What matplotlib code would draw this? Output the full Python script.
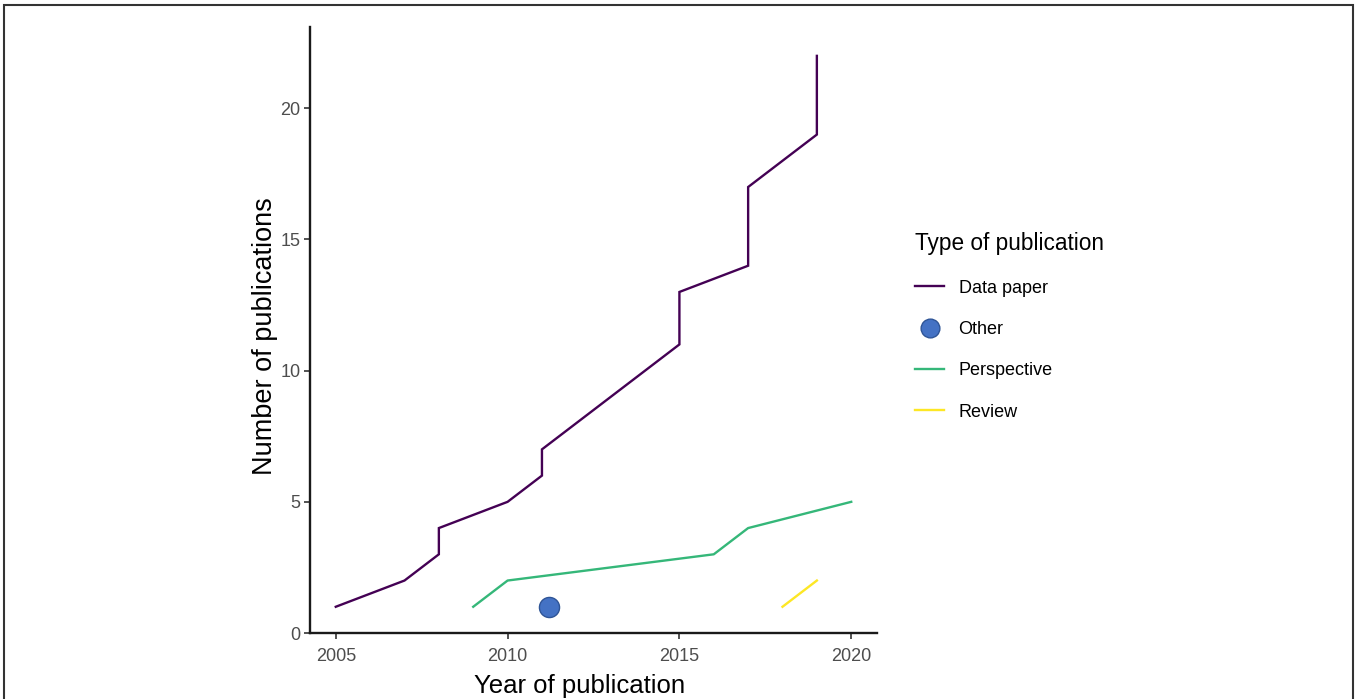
import matplotlib.pyplot as plt
from matplotlib.lines import Line2D
from matplotlib.patches import Rectangle

plt.rcParams["font.family"] = ["Liberation Sans", "DejaVu Sans"]

# cumulative counts per publication type
data_years = [2005, 2007, 2008, 2008, 2010, 2011, 2011, 2015, 2015, 2017, 2017, 2019, 2019]
data_counts = [1, 2, 3, 4, 5, 6, 7, 11, 13, 14, 17, 19, 22]
persp_years = [2009, 2010, 2016, 2017, 2020]
persp_counts = [1, 2, 3, 4, 5]
review_years = [2018, 2019]
review_counts = [1, 2]
other_years = [2011.2]
other_counts = [1]

x_ticks = [2005, 2010, 2015, 2020]
y_ticks = [0, 5, 10, 15, 20]

C_DATA = "#440154"
C_OTHER = "#4472C4"
C_PERSP = "#35B779"
C_REVIEW = "#FDE725"


def main():
    fig = plt.figure(figsize=(13.59, 6.99), dpi=100)
    fig.patch.set_facecolor("white")
    ax = fig.add_axes([310 / 1359, 1 - 633 / 699, (877 - 310) / 1359, (633 - 27) / 699])

    ax.plot(data_years, data_counts, color=C_DATA, lw=1.7, solid_joinstyle="miter")
    ax.plot(persp_years, persp_counts, color=C_PERSP, lw=1.7)
    ax.plot(review_years, review_counts, color=C_REVIEW, lw=1.7)
    ax.scatter(other_years, other_counts, s=210, color=C_OTHER, edgecolor="#2F5597",
               linewidth=1.0, zorder=3)

    ax.set_xlim(2004.25, 2020.75)
    ax.set_ylim(0, 23.1)
    ax.set_xticks(x_ticks)
    ax.set_yticks(y_ticks)
    ax.tick_params(labelsize=13, labelcolor="#4D4D4D", color="#333333",
                   length=4, width=1.2)
    ax.tick_params(axis="x", pad=7)
    ax.tick_params(axis="y", pad=3)
    for s in ["top", "right"]:
        ax.spines[s].set_visible(False)
    for s in ["left", "bottom"]:
        ax.spines[s].set_linewidth(1.7)
        ax.spines[s].set_color("#1a1a1a")

    ax.set_xlabel("Year of publication", fontsize=18.5)
    ax.xaxis.set_label_coords((580 - 310) / 567, -0.068)
    ax.set_ylabel("Number of publications", fontsize=19.5)
    ax.yaxis.set_label_coords(-0.056, 0.49)

    handles = [
        Line2D([], [], color=C_DATA, lw=1.7),
        Line2D([], [], marker="o", ls="none", markersize=13.5, markerfacecolor=C_OTHER,
               markeredgecolor="#2F5597"),
        Line2D([], [], color=C_PERSP, lw=1.7),
        Line2D([], [], color=C_REVIEW, lw=1.7),
    ]
    labels = ["Data paper", "Other", "Perspective", "Review"]
    leg = fig.legend(handles, labels, title="Type of publication", frameon=False,
                     loc="upper left", bbox_to_anchor=(899 / 1359, 1 - 216 / 699),
                     fontsize=13, title_fontsize=16.3, handlelength=1.6,
                     labelspacing=1.35, handletextpad=0.8)
    leg._legend_box.align = "left"

    fig.add_artist(Rectangle((4 / 1359, -0.01), 1349 / 1359, 1.01 - 4.5 / 699,
                             transform=fig.transFigure, fill=False,
                             edgecolor="#333333", linewidth=1.5))

    fig.savefig("out.png", dpi=100, facecolor="white")
    plt.close(fig)


if __name__ == "__main__":
    main()
